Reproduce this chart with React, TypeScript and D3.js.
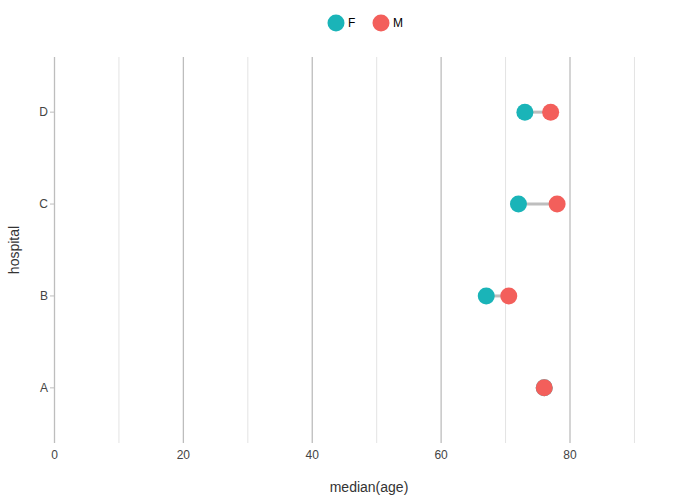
import React from "react";
import * as d3 from "d3";

const hospitals = ["A", "B", "C", "D"];
const femaleMedian = [76, 67, 72, 73];
const maleMedian = [76, 70.5, 78, 77];
const xTicks = [0, 20, 40, 60, 80];
const xMinorTicks = [10, 30, 50, 70, 90];
const seriesNames = ["F", "M"];
const seriesColors = ["#1AB4B8", "#F35F5B"];

export default function App() {
  const W = 700, H = 500;
  const x = d3.scaleLinear().domain([0, 80]).range([54.5, 570]);
  const y = d3.scaleLinear().domain([0.4, 4.6]).range([443, 57]);
  const yPos = (i: number) => y(i + 1);
  const font = "'Liberation Sans', Arial, sans-serif";
  return (
    <svg width={W} height={H} style={{ position: "absolute", left: 0, top: 0 }} fontFamily={font}>
      <rect width={W} height={H} fill="#fff" />
      {xMinorTicks.map((t) => (
        <line key={"mi" + t} x1={x(t)} x2={x(t)} y1={57} y2={443} stroke="#e3e3e3" strokeWidth={1} />
      ))}
      {xTicks.map((t) => (
        <line key={"ma" + t} x1={x(t)} x2={x(t)} y1={57} y2={443} stroke="#bdbdbd" strokeWidth={1.3} />
      ))}
      {hospitals.map((h, i) => (
        <g key={h}>
          <line x1={50} x2={54} y1={yPos(i)} y2={yPos(i)} stroke="#bdbdbd" strokeWidth={1} />
          <text x={48} y={yPos(i)} dy="0.35em" textAnchor="end" fontSize={12} fill="#444">{h}</text>
        </g>
      ))}
      {xTicks.map((t) => (
        <text key={"xl" + t} x={x(t)} y={459} textAnchor="middle" fontSize={12} fill="#444">{t}</text>
      ))}
      {hospitals.map((h, i) => (
        <line key={"seg" + h} x1={x(femaleMedian[i])} x2={x(maleMedian[i])} y1={yPos(i)} y2={yPos(i)} stroke="#bebebe" strokeWidth={3} />
      ))}
      {hospitals.map((h, i) => (
        <circle key={"f" + h} cx={x(femaleMedian[i])} cy={yPos(i)} r={8.5} fill={seriesColors[0]} />
      ))}
      {hospitals.map((h, i) => (
        <circle key={"m" + h} cx={x(maleMedian[i])} cy={yPos(i)} r={8.5} fill={seriesColors[1]} />
      ))}
      <text x={369} y={492} textAnchor="middle" fontSize={14} fill="#333">median(age)</text>
      <text transform="translate(19,250) rotate(-90)" textAnchor="middle" fontSize={14} fill="#333">hospital</text>
      {seriesNames.map((s, i) => (
        <g key={s} transform={`translate(${336 + i * 45},23)`}>
          <circle r={8.5} fill={seriesColors[i]} />
          <text x={12} dy="0.35em" fontSize={12} fill="#000">{s}</text>
        </g>
      ))}
    </svg>
  );
}
